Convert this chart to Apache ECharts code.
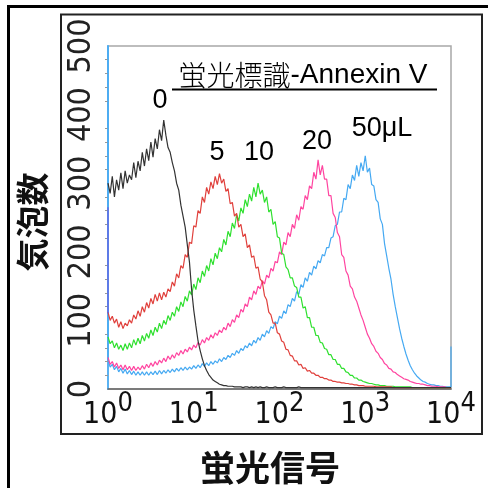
<!DOCTYPE html>
<html><head><meta charset="utf-8">
<script src="https://cdn.jsdelivr.net/npm/echarts@6/dist/echarts.min.js"></script>
<style>html,body{margin:0;padding:0;background:#fff}#c{width:488px;height:488px}</style>
</head><body><div id="c"></div>
<script>
// histogram bins: one value every 0.025 decade from 10^0 to 10^4 (161 bins)
const logStep = 0.025;
const black = [
  300,285,310,280,305,290,315,292,318,300,
  312,305,330,308,332,318,345,325,350,333,
  360,338,365,350,378,362,392,370,352,345,
  330,318,300,290,268,252,236,210,185,145,
  115,92,70,56,44,34,27,21,17,13,
  11,9,7,6,5,5,4,4,4,3,
  3,3,3,2,3,3,2,3,2,3,
  2,3,2,2,3,2,2,2,3,2,
  2,2,3,2,2,2,2,2,2,3,
  2,2,2,2,2,2,2,2,2,2,
  2,2,2,2,2,2,2,2,2,2,
  2,2,2,2,2,2,2,2,2,2,
  2,2,2,2,2,2,2,2,2,2,
  2,2,2,2,2,2,2,2,2,2,
  2,2,2,2,2,2,2,2,2,2,
  2,2,2,2,2,2,2,2,2,2,
  2];
const red = [
  112,100,106,96,102,90,98,88,96,92,
  101,96,108,102,114,106,120,112,126,118,
  132,124,138,128,140,130,141,134,146,142,
  156,150,168,162,180,176,196,192,214,212,
  238,236,260,256,280,272,294,284,302,292,
  310,298,314,300,306,288,292,270,272,252,
  256,236,240,222,226,206,210,192,194,176,
  178,160,156,136,130,112,108,96,96,82,
  80,70,68,58,57,49,48,41,41,35,
  36,30,31,26,27,23,23,20,20,17,
  17,15,15,13,13,11,11,10,10,9,
  9,8,8,7,7,6,6,5,5,5,
  4,4,4,4,4,3,3,3,3,3,
  3,3,3,2,2,2,2,2,2,2,
  2,2,2,2,2,2,2,2,2,2,
  2,2,2,2,2,2,2,2,2,2,
  2];
const green = [
  76,66,70,60,67,58,64,56,66,58,
  67,60,72,64,74,66,78,70,81,74,
  86,78,90,83,96,88,100,94,107,100,
  112,106,120,113,127,120,135,128,143,137,
  153,145,162,155,172,164,180,172,190,181,
  198,190,206,200,218,210,230,222,242,234,
  254,245,264,256,276,266,284,274,294,280,
  300,284,290,272,280,258,262,240,244,222,
  220,198,196,178,174,162,162,150,148,134,
  134,118,120,104,104,90,90,78,78,68,
  67,59,58,50,50,43,43,36,36,30,
  30,25,24,20,20,16,16,13,13,11,
  10,9,8,8,7,6,6,5,5,5,
  4,4,4,4,3,3,3,3,3,3,
  3,3,2,2,2,2,2,2,2,2,
  2,2,2,2,2,2,2,2,2,2,
  2];
const pink = [
  46,36,40,32,38,30,35,28,35,28,
  33,27,33,27,32,28,34,29,36,31,
  38,33,40,35,42,38,45,40,48,43,
  50,45,53,49,56,51,58,54,61,57,
  64,60,68,64,72,67,75,71,79,74,
  82,78,86,82,90,86,96,91,101,97,
  108,104,116,112,124,120,134,130,143,138,
  150,146,158,153,166,162,176,172,186,184,
  200,196,214,210,228,222,240,234,254,246,
  266,262,282,276,296,292,316,306,334,312,
  326,306,306,282,282,256,250,228,222,196,
  192,172,166,150,146,134,128,118,108,100,
  90,80,74,66,62,55,52,46,43,37,
  35,30,29,25,24,21,19,17,15,14,
  13,11,10,9,8,8,7,7,6,5,
  5,4,4,4,3,3,3,3,2,2,
  2];
const blue = [
  42,32,36,28,33,25,30,23,29,22,
  27,21,26,20,25,20,25,20,25,20,
  25,21,26,21,27,22,27,23,28,24,
  29,25,30,26,31,27,32,28,32,29,
  34,30,35,31,37,33,38,34,40,36,
  41,38,44,40,46,43,49,46,52,49,
  56,52,59,56,63,60,67,63,71,67,
  75,71,80,76,85,81,91,88,98,95,
  106,103,114,110,123,120,132,128,142,138,
  152,148,162,157,170,166,179,175,187,184,
  196,194,206,206,220,222,238,240,258,258,
  278,276,298,292,312,304,326,310,330,318,
  340,316,322,298,296,276,272,248,240,212,
  194,176,160,138,120,104,88,74,62,51,
  42,34,28,23,19,16,13,11,10,8,
  7,6,6,5,5,4,4,3,3,3,
  3];
// first / last channel pile-ups
const blueFirstBin = 520;
const blueLastBin = 62;
const leftEdgeLow = 110, leftEdgeHigh = 265;

const labelNames = ['0', '5', '10', '20', '50\u03bcL'];
const labelX = [4.04, 18.7, 57.7, 274, 1567];
const labelY = [420, 344, 344, 360, 380];
const xExponents = [0, 1, 2, 3, 4];
const yTicks = [0, 100, 200, 300, 400, 500];

function pairs(arr) {
  return arr.map((v, i) => [Math.pow(10, +(i * logStep).toFixed(3)), v]);
}

const chart = echarts.init(document.getElementById('c'), null, {renderer: 'canvas'});
const NARROW = "'Liberation Sans Narrow','DejaVu Sans Condensed','Liberation Sans',sans-serif";
const SANS = "'Liberation Sans',Arial,sans-serif";
const CJK = "'Noto Sans CJK JP','Noto Sans',sans-serif";

function lineSeries(name, data, color) {
  return {
    name, type: 'line', data, showSymbol: false, symbol: 'none',
    lineStyle: {color, width: 1.2}, itemStyle: {color}, clip: true, animation: false
  };
}

chart.setOption({
  animation: false,
  backgroundColor: '#fff',
  grid: {left: 108, top: 46, right: 37, bottom: 99, show: true, borderColor: '#a8a8a8', borderWidth: 1.5},
  xAxis: {
    type: 'log', logBase: 10, min: Math.pow(10, xExponents[0]), max: Math.pow(10, xExponents[xExponents.length - 1]),
    interval: 1,
    axisLine: {lineStyle: {color: '#666', width: 1.5}},
    axisTick: {show: false},
    splitLine: {show: false},
    axisLabel: {
      margin: 9,
      formatter: v => '{b|10}{s|' + Math.round(Math.log10(v)) + '}',
      rich: {
        b: {fontSize: 30, fontFamily: NARROW, color: '#111', verticalAlign: 'bottom', lineHeight: 32},
        s: {fontSize: 27, fontFamily: NARROW, color: '#111', verticalAlign: 'bottom', lineHeight: 32, padding: [0, 0, 13, 0]}
      }
    }
  },
  yAxis: {
    type: 'value', min: yTicks[0], max: yTicks[yTicks.length - 1], interval: 100,
    axisLine: {show: true, lineStyle: {color: '#5ab2f2', width: 2}},
    axisTick: {show: false},
    minorTick: {show: true, splitNumber: 5, length: 3, lineStyle: {color: '#999'}},
    splitLine: {show: false},
    axisLabel: {rotate: 90, margin: 10, fontSize: 32, fontFamily: NARROW, color: '#222'}
  },
  series: [
    lineSeries('50', [[1, blueFirstBin]].concat(pairs(blue), [[10000, blueLastBin]]), '#45a9f2'),
    lineSeries('20', pairs(pink), '#ff45a0'),
    lineSeries('10', pairs(green), '#2fe02f'),
    lineSeries('5', pairs(red), '#e0403c'),
    lineSeries('0', pairs(black), '#333'),
    lineSeries('edge', [[1, leftEdgeLow], [1, leftEdgeHigh]], '#6a5ae0'),
    {
      type: 'scatter', symbolSize: 0, silent: true, itemStyle: {opacity: 1},
      data: labelNames.map((n, i) => ({name: n, value: [labelX[i], labelY[i]]})),
      label: {show: true, position: 'inside', formatter: p => p.name, fontSize: 27, fontFamily: SANS, color: '#000', opacity: 1}
    }
  ],
  graphic: [
    {type: 'rect', shape: {x: 8.5, y: 6.5, width: 600, height: 600}, style: {fill: 'none', stroke: '#000', lineWidth: 3}, silent: true},
    {type: 'rect', shape: {x: 61, y: 14.5, width: 421, height: 419.5}, style: {fill: 'none', stroke: '#222', lineWidth: 2}, silent: true},
    {type: 'text', x: 303, y: 75, style: {
      text: '{c|蛍光標識}{l|-Annexin V}', align: 'center', verticalAlign: 'middle',
      rich: {c: {fontSize: 28, fontFamily: CJK, fontWeight: 300, color: '#111'}, l: {fontSize: 28, fontFamily: SANS, color: '#111'}}
    }},
    {type: 'line', shape: {x1: 172, y1: 89.5, x2: 437, y2: 89.5}, style: {stroke: '#000', lineWidth: 2}},
    {type: 'text', x: 32, y: 222, rotation: Math.PI / 2, style: {
      text: '気泡数', align: 'center', verticalAlign: 'middle', fontSize: 33, fontWeight: 'bold', fontFamily: CJK, fill: '#111'
    }},
    {type: 'text', x: 270, y: 468, style: {
      text: '蛍光信号', align: 'center', verticalAlign: 'middle', fontSize: 35, fontWeight: 'bold', fontFamily: CJK, fill: '#111'
    }}
  ]
});
</script></body></html>
